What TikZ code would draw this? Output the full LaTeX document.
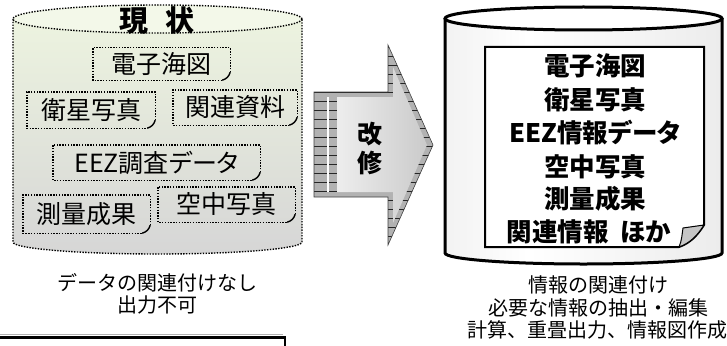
\documentclass[tikz,border=0pt]{standalone}
\usepackage{fontspec}
\setmainfont{Noto Sans CJK JP}[RawFeature=+palt]
\newfontfamily\jpfixed{Noto Sans CJK JP}
\usetikzlibrary{calc}
\definecolor{lgreen}{RGB}{238,245,224}
\definecolor{lgray}{RGB}{214,214,214}
\pgfdeclarehorizontalshading{cylh}{100bp}{color(0bp)=(gray!60); color(25bp)=(gray!10); color(40bp)=(white); color(75bp)=(gray!15); color(100bp)=(gray!55)}
\pgfdeclarehorizontalshading{arrh}{100bp}{color(0bp)=(white); color(100bp)=(gray!55)}
\tikzset{
  dotline/.style={line width=1.4pt, dash pattern=on 1.4pt off 1.4pt, black},
  boxtext/.style={inner sep=0pt, font=\fontsize{25}{25}\selectfont},
  papertext/.style={inner sep=0pt, font=\bfseries\fontsize{25.5}{26}\selectfont},
  labeltext/.style={inner sep=0pt, font=\jpfixed\fontsize{20}{20}\selectfont},
}
\newcommand{\dotbox}[6]{%
  \node[boxtext, minimum width=#4pt, minimum height=#5pt] (#1) at (#2,#3) {#6};
  \draw[dotline] ([yshift=8pt]#1.south east) -- (#1.north east) -- (#1.north west) -- (#1.south west) -- ([xshift=-8pt]#1.south east);
  \draw[line width=1.4pt] ([xshift=-8pt]#1.south east) .. controls ([xshift=-4pt,yshift=1pt]#1.south east) and ([xshift=-1pt,yshift=4pt]#1.south east) .. ([yshift=8pt]#1.south east);
}
\begin{document}
\begin{tikzpicture}[x=1pt,y=-1pt]
\useasboundingbox (0,0) rectangle (727,345);

% ---- left cylinder ----
\shade[top color=lgreen, bottom color=lgray]
  (13,19) -- (13,242) arc[start angle=180, end angle=0, x radius=144.5, y radius=12]
  -- (302,19) arc[start angle=0, end angle=-180, x radius=144.5, y radius=14] -- cycle;
\fill[lgreen!70!white] (157.5,19) ellipse [x radius=144.5, y radius=14];
\draw[dotline] (157.5,19) ellipse [x radius=144.5, y radius=14];
\draw[dotline] (13,19) -- (13,242) arc[start angle=180, end angle=0, x radius=144.5, y radius=12] -- (302,19);

\node[inner sep=0pt, font=\bfseries\fontsize{29}{29}\selectfont] (title) at (157,21) {現\hspace{0.6em}状};

\dotbox{b1}{161.5}{64}{137}{32}{電子海図}
\dotbox{b2}{91}{110}{128}{36}{衛星写真}
\dotbox{b3}{235}{107.5}{124}{35}{関連資料}
\dotbox{b4}{156.5}{162.5}{207}{35}{EEZ調査データ}
\dotbox{b5}{86.5}{214}{127}{38}{測量成果}
\dotbox{b6}{226.5}{204.5}{137}{35}{空中写真}

\node[labeltext] (l1) at (157,283) {データの関連付けなし};
\node[labeltext] (l2) at (157,305) {出力不可};

% ---- arrow ----
\begin{scope}
  \path[clip] (314,92) -- (388,92) -- (388,45) -- (433,145) -- (388,245) -- (388,197) -- (314,197) -- cycle;
  \fill[gray!60] (300,40) rectangle (440,250);
  \foreach \yy in {47,56,...,245} {\draw[gray!30!black, line width=0.7pt] (300,\yy) -- (440,\yy);}
\end{scope}
\draw[gray!50!black, line width=0.6pt] (314,92) -- (388,92) -- (388,45) -- (433,145) -- (388,245) -- (388,197) -- (314,197) -- cycle;
\draw[white, line width=1.2pt] (328,97) -- (328,192);
\shade[shading=arrh] (337,97) -- (393,97) -- (393,67) -- (427,145) -- (393,223) -- (393,192) -- (337,192) -- cycle;
\node[inner sep=0pt, font=\bfseries\fontsize{25}{25}\selectfont] (kai) at (370,134) {改};
\node[inner sep=0pt, font=\bfseries\fontsize{25}{25}\selectfont] (shu) at (370,163) {修};

% ---- right cylinder ----
\shade[shading=cylh]
  (445,18.5) -- (445,253) arc[start angle=180, end angle=0, x radius=138.5, y radius=11] -- (722,18.5) -- cycle;
\draw[line width=3pt] (445,18.5) -- (445,253) arc[start angle=180, end angle=0, x radius=138.5, y radius=11] -- (722,18.5);
\filldraw[fill=white, line width=3pt] (583.5,18.5) ellipse [x radius=138.5, y radius=11.5];

% paper
\filldraw[fill=white, line width=2pt] (485,47) -- (704,47) -- (704,225) .. controls (697,236) and (690,243) .. (679,247) -- (485,247) -- cycle;
\filldraw[fill=gray!45, line width=1pt] (679,247) .. controls (682,240) and (682,234) .. (683,228) -- (704,225) .. controls (697,236) and (690,243) .. (679,247) -- cycle;

\node[papertext] (p1) at (595,66) {電子海図};
\node[papertext] (p2) at (595,100) {衛星写真};
\node[papertext] (p3) at (595,133) {EEZ情報データ};
\node[papertext] (p4) at (595,167) {空中写真};
\node[papertext] (p5) at (595,199) {測量成果};
\node[papertext] (p6) at (589,232) {関連情報\hspace{0.45em}ほか};

\node[labeltext] (r1) at (598,285) {情報の関連付け};
\node[labeltext] (r2) at (598,308) {必要な情報の抽出・編集};
\node[labeltext] (r3) at (597,330) {計算、重畳出力、情報図作成};

% ---- bottom box (cut off) ----
\draw[gray!60, line width=1.2pt] (-2,334.5) -- (283,334.5);
\draw[line width=2.5pt] (-2,337.5) -- (285,337.5) -- (285,350);
\end{tikzpicture}
\end{document}
